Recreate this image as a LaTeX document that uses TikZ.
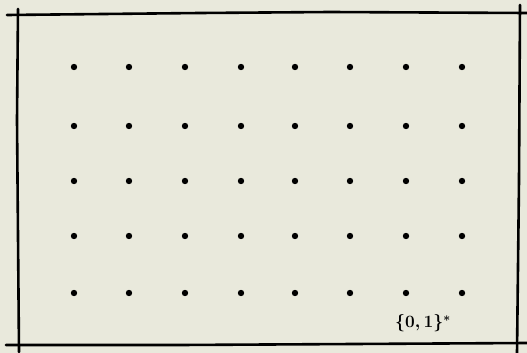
\documentclass[tikz,border=0pt]{standalone}
\usepackage{amsmath}
\usepackage{amssymb}
\usepackage{xcolor}
\usepackage{tikz}
\definecolor{paper}{RGB}{233,233,220}

\begin{document}
\begin{tikzpicture}[x=1pt,y=-1pt]
  % Background and bounding box
  \fill[paper] (0,0) rectangle (527,353);
  \useasboundingbox (0,0) rectangle (527,353);
  % Frame, hand drawn with overshooting ends
  \draw[line width=2.6pt, line cap=round] (7,15) -- (200,13) -- (330,12) -- (527,13);
  \draw[line width=2.6pt, line cap=round] (6,345) -- (180,345) -- (527,343);
  \draw[line width=2.6pt, line cap=round] (18,9) -- (17,120) -- (19,352);
  \draw[line width=2.6pt, line cap=round] (520,5) -- (519,180) -- (517,353);
  % Grid of points
  \foreach \x in {74,129,185,241,295,350,406,462}
    \foreach \y in {67,126,181,236,293}
      \fill (\x,\y) circle (3.2pt);
  % Set label
  \node[font=\LARGE] (alphabet) at (423,323) {$\boldsymbol{\{0,1\}^*}$};
\end{tikzpicture}
\end{document}
